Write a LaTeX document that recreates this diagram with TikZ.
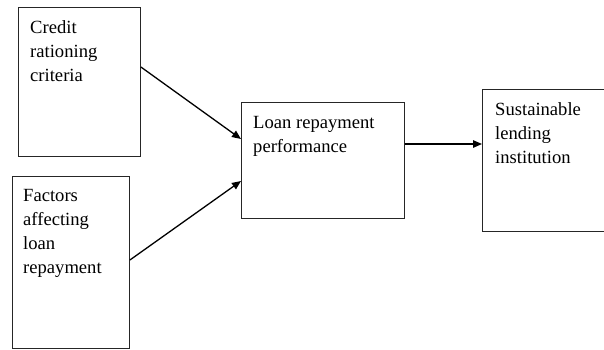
\documentclass[tikz,border=0pt]{standalone}
\usepackage{fontspec}
\setmainfont{Liberation Serif}
\usetikzlibrary{arrows.meta}
\begin{document}
\begin{tikzpicture}[x=1pt,y=-1pt,
  box/.style={draw=black!85, line width=0.9pt, anchor=north west, inner sep=0pt},
  lbl/.style={anchor=north west, inner sep=0pt, align=left, font=\fontsize{18.6}{24}\selectfont},
  conn/.style={line width=1.3pt, -{Triangle[length=9pt,width=7.5pt]}}]
\useasboundingbox (0,0) rectangle (604,349);
\clip (0,0) rectangle (604,349);
\node[box, minimum width=122pt, minimum height=149pt] (b1) at (18,7) {};
\node[box, minimum width=117pt, minimum height=172pt] (b2) at (12,176) {};
\node[box, minimum width=163pt, minimum height=116pt] (b3) at (241,102) {};
\node[box, minimum width=140pt, minimum height=142pt] (b4) at (482,89) {};
\node[lbl] (t1) at (30,20.8) {Credit\\rationing\\criteria};
\node[lbl] (t2) at (23,189) {Factors\\affecting\\loan\\repayment};
\node[lbl] (t3) at (253,116) {Loan repayment\\performance};
\node[lbl] (t4) at (495,102.3) {Sustainable\\lending\\institution};
\draw[conn] (b1.east |- 0,67) -- (b3.west |- 0,139);
\draw[conn] (b2.east |- 0,260) -- (b3.west |- 0,181);
\draw[conn] (b3.east |- 0,144) -- (b4.west |- 0,144);
\end{tikzpicture}
\end{document}
